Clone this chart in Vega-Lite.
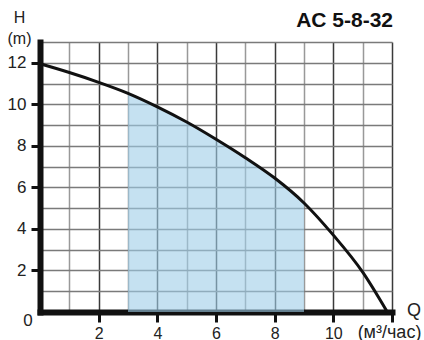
{
  "$schema": "https://vega.github.io/schema/vega-lite/v6.json",
  "width": 352,
  "height": 270,
  "autosize": {"type": "none"},
  "padding": {"left": 40, "top": 42, "right": 32, "bottom": 28},
  "background": "white",
  "config": {"view": {"stroke": null}, "font": "Liberation Sans"},
  "resolve": {"axis": {"x": "independent", "y": "independent"}},
  "data": {
    "values": [
      {"Q": 0, "H": 11.95},
      {"Q": 1, "H": 11.53},
      {"Q": 2, "H": 11.06},
      {"Q": 3, "H": 10.53},
      {"Q": 4, "H": 9.88},
      {"Q": 5, "H": 9.15},
      {"Q": 6, "H": 8.32},
      {"Q": 7, "H": 7.43},
      {"Q": 8, "H": 6.45},
      {"Q": 9, "H": 5.25},
      {"Q": 10, "H": 3.7},
      {"Q": 11, "H": 1.92},
      {"Q": 11.84, "H": 0}
    ]
  },
  "layer": [
    {
      "encoding": {
        "x": {
          "field": "Q",
          "type": "quantitative",
          "scale": {"domain": [0, 12], "nice": false, "zero": false},
          "axis": {
            "values": [0, 1, 2, 3, 4, 5, 6, 7, 8, 9, 10, 11, 12],
            "title": "(м³/час)",
            "titleFont": "Liberation Sans",
            "titleFontSize": 18,
            "titleFontWeight": "normal",
            "titleColor": "#222",
            "titleX": 349,
            "titleY": 25,
            "titleAlign": "center",
            "titleBaseline": "alphabetic",
            "labelExpr": "datum.value % 2 == 0 && datum.value > 0 && datum.value < 12 ? datum.label : ''",
            "labelFontSize": 16,
            "labelColor": "#222",
            "labelPadding": 3,
            "labelFlush": false,
            "labelOverlap": false,
            "domainColor": "#111",
            "domainWidth": 6,
            "domainCap": "square",
            "tickColor": "#111",
            "tickWidth": 3,
            "tickSize": 10,
            "tickOpacity": {"condition": {"test": "datum.value % 2 == 0 && datum.value > 0", "value": 1}, "value": 0},
            "grid": true,
            "gridColor": {"condition": {"test": "datum.value % 2 == 0", "value": "#3a3a3a"}, "value": "#999999"},
            "gridWidth": 1.5,
            "gridOpacity": 1
          }
        },
        "y": {
          "field": "H",
          "type": "quantitative",
          "scale": {"domain": [0, 13], "nice": false, "zero": true},
          "axis": {
            "values": [0, 1, 2, 3, 4, 5, 6, 7, 8, 9, 10, 11, 12, 13],
            "title": ["H", "(m)"],
            "titleFont": "Liberation Sans",
            "titleFontSize": 16,
            "titleFontWeight": "normal",
            "titleColor": "#222",
            "titleAngle": 0,
            "titleX": -21,
            "titleY": -20,
            "titleAlign": "center",
            "titleBaseline": "alphabetic",
            "titleLineHeight": 21,
            "labelExpr": "datum.value % 2 == 0 && datum.value > 0 && datum.value < 13 ? datum.label : ''",
            "labelFontSize": 17,
            "labelColor": "#222",
            "labelPadding": 5,
            "labelFlush": false,
            "labelOverlap": false,
            "domainColor": "#111",
            "domainWidth": 6,
            "domainCap": "square",
            "tickColor": "#111",
            "tickWidth": 3,
            "tickSize": 9,
            "tickOpacity": {"condition": {"test": "datum.value % 2 == 0 && datum.value > 0 && datum.value < 13", "value": 1}, "value": 0},
            "grid": true,
            "gridColor": "#7a7a7a",
            "gridWidth": 1.5,
            "gridOpacity": 1
          }
        }
      },
      "layer": [
        {
          "transform": [{"filter": "datum.Q >= 3 && datum.Q <= 9"}],
          "mark": {"type": "area", "interpolate": "monotone", "color": "#9fcde8", "opacity": 0.6}
        },
        {
          "mark": {"type": "line", "interpolate": "monotone", "color": "#111111", "strokeWidth": 3}
        }
      ]
    },
    {
      "data": {"values": [{}]},
      "mark": {"type": "text", "align": "right", "baseline": "alphabetic", "dy": -15, "dx": 1, "fontSize": 21, "fontWeight": "bold", "font": "Liberation Sans", "color": "#111"},
      "encoding": {"x": {"datum": 12, "axis": null}, "y": {"datum": 13, "axis": null}, "text": {"value": "AC 5-8-32"}}
    },
    {
      "data": {"values": [{}]},
      "mark": {"type": "text", "align": "center", "baseline": "middle", "dx": -12, "dy": 9, "fontSize": 17, "font": "Liberation Sans", "color": "#222"},
      "encoding": {"x": {"datum": 0, "axis": null}, "y": {"datum": 0, "axis": null}, "text": {"value": "0"}}
    },
    {
      "data": {"values": [{}]},
      "mark": {"type": "text", "align": "center", "baseline": "alphabetic", "dx": 22, "dy": 4, "fontSize": 18, "font": "Liberation Sans", "color": "#222"},
      "encoding": {"x": {"datum": 12, "axis": null}, "y": {"datum": 0, "axis": null}, "text": {"value": "Q"}}
    }
  ]
}
